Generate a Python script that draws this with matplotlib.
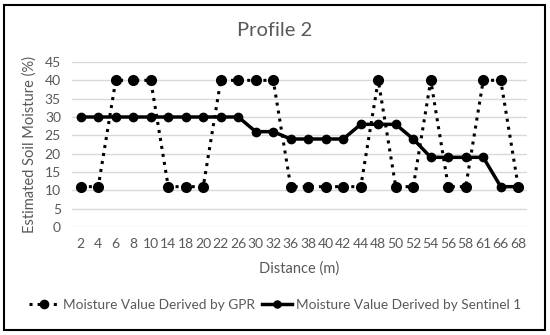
import numpy as np
import matplotlib.pyplot as plt
from matplotlib.patches import Rectangle

distance = ['2', '4', '6', '8', '10', '14', '18', '20', '22', '26', '30', '32', '36',
            '38', '40', '42', '44', '48', '50', '52', '54', '56', '58', '61', '66', '68']
gpr = [11, 11, 40, 40, 40, 11, 11, 11, 40, 40, 40, 40, 11,
       11, 11, 11, 11, 40, 11, 11, 40, 11, 11, 40, 40, 11]
sentinel = [30, 30, 30, 30, 30, 30, 30, 30, 30, 30, 26, 26, 24,
            24, 24, 24, 28, 28, 28, 24, 19, 19, 19, 19, 11, 11]

plt.rcParams['font.family'] = ['Lato', 'DejaVu Sans']
grey = '#595959'

fig = plt.figure(figsize=(5.5, 3.35), dpi=100)
ax = fig.add_axes([72 / 550, 1 - 227 / 335, 455 / 550, 165 / 335])

x = np.arange(len(distance))
ax.plot(x, gpr, color='black', linestyle=':', linewidth=2.2, marker='o',
        markersize=7, label='Moisture Value Derived by GPR')
ax.plot(x, sentinel, color='black', linestyle='-', linewidth=2.5, marker='o',
        markersize=6, label='Moisture Value Derived by Sentinel 1')

ax.set_xlim(-0.5, len(distance) - 0.5)
ax.set_ylim(0, 45)
ax.set_yticks(range(0, 46, 5))
ax.set_xticks(x)
ax.set_xticklabels(distance)
ax.grid(axis='y', color='#d9d9d9', linewidth=1)
ax.set_axisbelow(True)
for s in ax.spines.values():
    s.set_visible(False)
ax.tick_params(length=0, colors=grey, labelsize=10, pad=8)

ax.set_xlabel('Distance (m)', color=grey, fontsize=10.5, labelpad=8)
ax.set_ylabel('Estimated Soil Moisture (%)', color=grey, fontsize=10.5, labelpad=6)
fig.text(0.5, 1 - 30 / 335, 'Profile 2', ha='center', va='center', color=grey, fontsize=14.5)

leg = fig.legend(loc='center', bbox_to_anchor=(0.5, 1 - 305 / 335), ncol=2, frameon=False,
                 fontsize=9.8, handlelength=2.2, columnspacing=0.5, handletextpad=0.3,
                 markerscale=0.85)
for t in leg.get_texts():
    t.set_color(grey)

fig.add_artist(Rectangle((4 / 550, 5 / 335), 541 / 550, 325 / 335, transform=fig.transFigure,
                         fill=False, edgecolor='black', linewidth=1.5))

fig.savefig('out.png', dpi=100)
